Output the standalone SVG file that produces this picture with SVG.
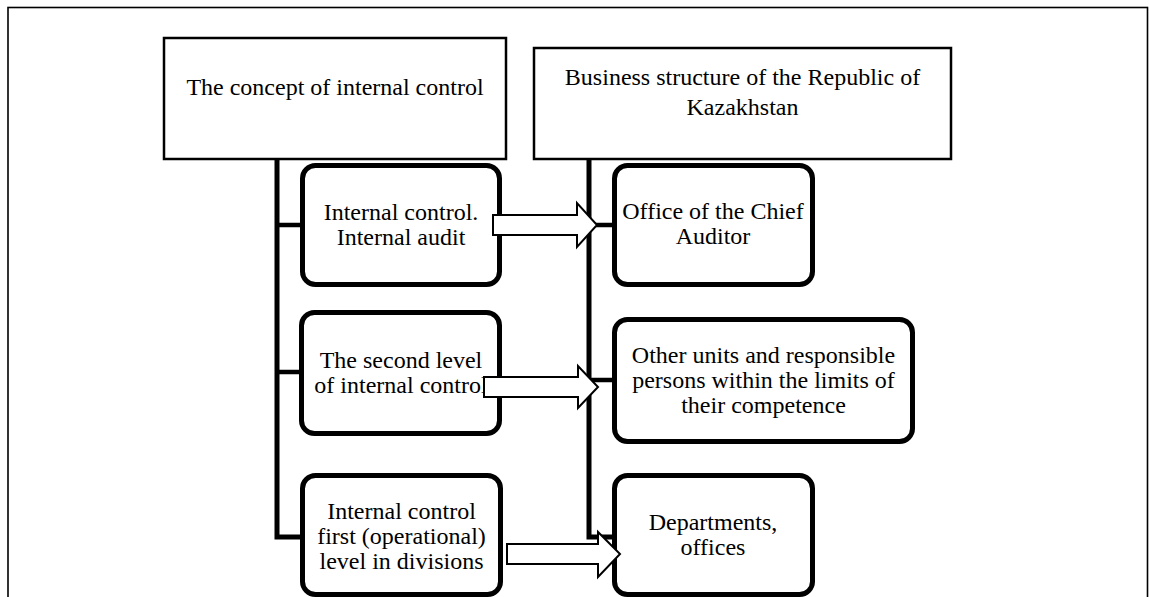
<svg xmlns="http://www.w3.org/2000/svg" width="1149" height="597" viewBox="0 0 1149 597">
<style>
.frame{fill:none;stroke:#000;stroke-width:1.6}
.sq{fill:#fff;stroke:#000;stroke-width:2.5}
.rb{fill:#fff;stroke:#000;stroke-width:5}
.ln{fill:none;stroke:#000;stroke-width:5;stroke-linejoin:miter}
.stub{fill:none;stroke:#000;stroke-width:4.5}
.arr{fill:#fff;stroke:#000;stroke-width:2;stroke-linejoin:miter}
text{font-family:"Liberation Serif","Times New Roman",serif;font-size:24px;fill:#000;text-anchor:middle}
</style>
<rect id="frame" class="frame" x="8" y="7.5" width="1139.5" height="600"/>
<g id="connectors">
<path class="ln" d="M277,159 V537 H302"/>
<path class="stub" d="M277,225 H302 M277,372 H301"/>
<path class="ln" d="M589,160 V537 H614"/>
<path class="stub" d="M589,225 H614 M589,380 H614"/>
</g>
<g id="node-concept">
<rect class="sq" x="164" y="38" width="342" height="121"/>
<text x="335" y="95">The concept of internal control</text>
</g>
<g id="node-business">
<rect class="sq" x="534" y="48" width="417" height="111"/>
<text x="742.5" y="85">Business structure of the Republic of</text>
<text x="742.5" y="115">Kazakhstan</text>
</g>
<g id="node-audit">
<rect class="rb" x="302.5" y="165.5" width="197" height="119" rx="13"/>
<text x="401" y="220">Internal control.</text>
<text x="401" y="245">Internal audit</text>
</g>
<g id="node-second">
<rect class="rb" x="301.5" y="312.5" width="198" height="121" rx="13"/>
<text x="401" y="368">The second level</text>
<text x="401" y="393">of internal control</text>
</g>
<g id="node-first">
<rect class="rb" x="302.5" y="475.5" width="198" height="119" rx="13"/>
<text x="401.5" y="519">Internal control</text>
<text x="401.5" y="544">first (operational)</text>
<text x="401.5" y="569">level in divisions</text>
</g>
<g id="node-office">
<rect class="rb" x="614.5" y="165.5" width="198" height="119" rx="13"/>
<text x="713" y="219">Office of the Chief</text>
<text x="713" y="244">Auditor</text>
</g>
<g id="node-other">
<rect class="rb" x="614.5" y="319.5" width="298" height="122" rx="13"/>
<text x="763.5" y="363">Other units and responsible</text>
<text x="763.5" y="388">persons within the limits of</text>
<text x="763.5" y="413">their competence</text>
</g>
<g id="node-dept">
<rect class="rb" x="614.5" y="475.5" width="198" height="119" rx="13"/>
<text x="713" y="530">Departments,</text>
<text x="713" y="555">offices</text>
</g>
<g id="arrows">
<polygon class="arr" points="493,215 577,215 577,203 597,225 577,247 577,235 493,235"/>
<polygon class="arr" points="484,377 578,377 578,366 598,387 578,408 578,397 484,397"/>
<polygon class="arr" points="507,544 598,544 598,532 620,554 598,577 598,564 507,564"/>
</g>
</svg>
